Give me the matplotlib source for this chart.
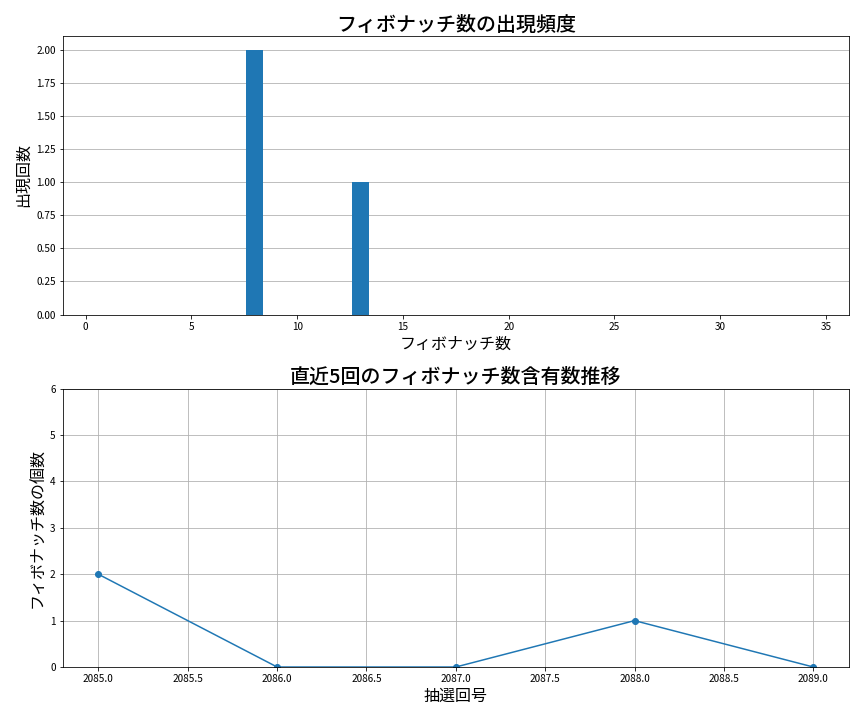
import numpy as np
import matplotlib
matplotlib.use("Agg")
import matplotlib.pyplot as plt

plt.rcParams['font.family'] = ['Noto Sans CJK JP', 'DejaVu Sans']

# fibonacci numbers within 1..43 and how often they appeared
fib_numbers = [1, 2, 3, 5, 8, 13, 21, 34]
fib_counts = [0, 0, 0, 0, 2, 1, 0, 0]

# last 5 draws
draw_ids = [2085, 2086, 2087, 2088, 2089]
fib_per_draw = [2, 0, 0, 1, 0]

fig = plt.figure(figsize=(12, 10), dpi=72)

ax1 = fig.add_subplot(2, 1, 1)
ax1.bar(fib_numbers, fib_counts, width=0.8, color='#1f77b4')
ax1.set_title('フィボナッチ数の出現頻度', fontsize=20, fontweight='medium')
ax1.set_xlabel('フィボナッチ数', fontsize=16)
ax1.set_ylabel('出現回数', fontsize=16)
ax1.yaxis.set_major_formatter(matplotlib.ticker.FormatStrFormatter('%.2f'))
ax1.grid(axis='y')
ax1.set_axisbelow(True)

ax2 = fig.add_subplot(2, 1, 2)
ax2.plot(draw_ids, fib_per_draw, marker='o', color='#1f77b4')
ax2.set_title('直近5回のフィボナッチ数含有数推移', fontsize=20, fontweight='medium')
ax2.set_xlabel('抽選回号', fontsize=16)
ax2.set_ylabel('フィボナッチ数の個数', fontsize=16)
ax2.set_ylim(0, 6)
ax2.xaxis.set_major_formatter(matplotlib.ticker.FormatStrFormatter('%.1f'))
ax2.grid(True)

plt.tight_layout(pad=1.5)
plt.savefig('out.png', dpi=72)
